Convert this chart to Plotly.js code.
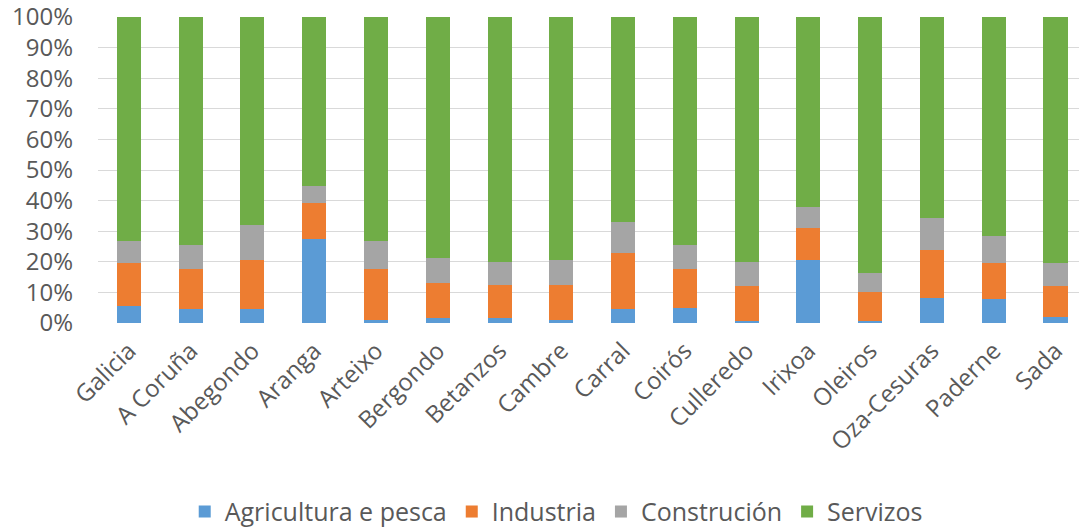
<!DOCTYPE html>
<html>
<head>
<meta charset="utf-8">
<script src="https://cdn.plot.ly/plotly-3.0.1.min.js"></script>
<style>html,body{margin:0;padding:0;background:#fff;}#chart{width:1079px;height:532px;}</style>
</head>
<body>
<div id="chart"></div>
<script>
const categories = ["Galicia","A Coruña","Abegondo","Aranga","Arteixo","Bergondo","Betanzos","Cambre","Carral","Coirós","Culleredo","Irixoa","Oleiros","Oza-Cesuras","Paderne","Sada"];
const agricultura = [5.7, 4.6, 4.6, 27.4, 1.1, 1.6, 1.6, 1.1, 4.6, 5.0, 0.6, 20.5, 0.6, 8.1, 7.7, 2.1];
const industria   = [13.9, 12.9, 16.0, 11.9, 16.4, 11.4, 10.9, 11.4, 18.4, 12.5, 11.4, 10.4, 9.5, 15.8, 11.9, 9.9];
const construcion = [7.3, 7.9, 11.3, 5.5, 9.4, 8.4, 7.5, 8.0, 9.9, 7.9, 8.0, 6.9, 6.4, 10.4, 8.8, 7.6];
const servizos    = [73.1, 74.6, 68.1, 55.2, 73.1, 78.6, 80.0, 79.5, 67.1, 74.6, 80.0, 62.2, 83.5, 65.7, 71.6, 80.4];
const seriesNames = ["Agricultura e pesca","Industria","Construción","Servizos"];
const seriesColors = ["#5B9BD5","#ED7D31","#A5A5A5","#70AD47"];
const seriesData = [agricultura, industria, construcion, servizos];

const font = "'Open Sans', 'Noto Sans', sans-serif";
const traces = seriesData.map((vals, i) => ({
  type: 'bar',
  name: seriesNames[i],
  x: categories,
  y: vals,
  marker: {color: seriesColors[i], line: {width: 0}},
  hoverinfo: 'skip'
}));

const layout = {
  width: 1079, height: 532,
  barmode: 'stack',
  bargap: 0.61,
  paper_bgcolor: '#ffffff', plot_bgcolor: '#ffffff',
  margin: {l: 98, r: 0, t: 17, b: 209},
  font: {family: font, size: 24, color: '#595959'},
  xaxis: {
    type: 'category',
    range: [-0.5, 15.38],
    tickangle: -45,
    showgrid: false, showline: false, zeroline: false,
    ticks: '', ticklabelstandoff: 8,
    tickfont: {family: font, size: 24, color: '#595959'}
  },
  yaxis: {
    range: [0, 100],
    dtick: 10,
    ticksuffix: '%',
    showgrid: true, gridcolor: '#d9d9d9', gridwidth: 1,
    zeroline: false, showline: false, ticks: '',
    ticklabelstandoff: 24,
    ticklabeloverflow: 'allow',
    tickfont: {family: font, size: 24, color: '#595959'}
  },
  legend: {
    orientation: 'h',
    traceorder: 'normal',
    xref: 'container', yref: 'container',
    x: 0.5155, xanchor: 'center',
    y: 0.038, yanchor: 'middle',
    font: {family: font, size: 25, color: '#595959'},
    itemwidth: 30
  },
  showlegend: true
};

Plotly.newPlot('chart', traces, layout, {displayModeBar: false, staticPlot: true});
</script>
</body>
</html>
